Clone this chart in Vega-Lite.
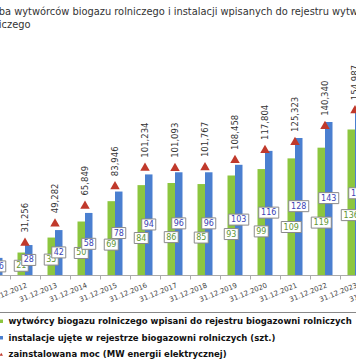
{
  "$schema": "https://vega.github.io/schema/vega-lite/v6.json",
  "width": 420,
  "height": 214,
  "autosize": {"type": "none"},
  "padding": {"left": -20, "top": 61, "right": 0, "bottom": 89},
  "background": "white",
  "config": {
    "view": {"stroke": null},
    "font": "DejaVu Sans",
    "locale": {"number": {"decimal": ",", "thousands": ".", "grouping": [3], "currency": ["", ""]}}
  },
  "title": {
    "text": ["Liczba wytwórców biogazu rolniczego i instalacji wpisanych do rejestru wytwórców biogazu", "rolniczego"],
    "anchor": "start",
    "frame": "group",
    "font": "DejaVu Sans",
    "fontSize": 9.85,
    "fontWeight": "normal",
    "color": "#333333",
    "baseline": "bottom",
    "lineHeight": 13,
    "offset": 21,
    "dx": 0
  },
  "datasets": {
    "bars": [
      {"d": "31.12.2011", "s": "w", "v": 13}, {"d": "31.12.2011", "s": "i", "v": 16},
      {"d": "31.12.2012", "s": "w", "v": 21}, {"d": "31.12.2012", "s": "i", "v": 28},
      {"d": "31.12.2013", "s": "w", "v": 35}, {"d": "31.12.2013", "s": "i", "v": 42},
      {"d": "31.12.2014", "s": "w", "v": 50}, {"d": "31.12.2014", "s": "i", "v": 58},
      {"d": "31.12.2015", "s": "w", "v": 69}, {"d": "31.12.2015", "s": "i", "v": 78},
      {"d": "31.12.2016", "s": "w", "v": 84}, {"d": "31.12.2016", "s": "i", "v": 94},
      {"d": "31.12.2017", "s": "w", "v": 86}, {"d": "31.12.2017", "s": "i", "v": 96},
      {"d": "31.12.2018", "s": "w", "v": 85}, {"d": "31.12.2018", "s": "i", "v": 96},
      {"d": "31.12.2019", "s": "w", "v": 93}, {"d": "31.12.2019", "s": "i", "v": 103},
      {"d": "31.12.2020", "s": "w", "v": 99}, {"d": "31.12.2020", "s": "i", "v": 116},
      {"d": "31.12.2021", "s": "w", "v": 109}, {"d": "31.12.2021", "s": "i", "v": 128},
      {"d": "31.12.2022", "s": "w", "v": 119}, {"d": "31.12.2022", "s": "i", "v": 143},
      {"d": "31.12.2023", "s": "w", "v": 136}, {"d": "31.12.2023", "s": "i", "v": 152}
    ],
    "moc": [
      {"d": "31.12.2011", "m": 20.0},
      {"d": "31.12.2012", "m": 31.256},
      {"d": "31.12.2013", "m": 49.282},
      {"d": "31.12.2014", "m": 65.849},
      {"d": "31.12.2015", "m": 83.946},
      {"d": "31.12.2016", "m": 101.234},
      {"d": "31.12.2017", "m": 101.093},
      {"d": "31.12.2018", "m": 101.767},
      {"d": "31.12.2019", "m": 108.458},
      {"d": "31.12.2020", "m": 117.804},
      {"d": "31.12.2021", "m": 125.323},
      {"d": "31.12.2022", "m": 140.340},
      {"d": "31.12.2023", "m": 154.987}
    ]
  },
  "encoding": {
    "x": {
      "field": "d",
      "type": "nominal",
      "scale": {
        "domain": ["31.12.2011", "31.12.2012", "31.12.2013", "31.12.2014", "31.12.2015", "31.12.2016", "31.12.2017", "31.12.2018", "31.12.2019", "31.12.2020", "31.12.2021", "31.12.2022", "31.12.2023", "31.12.2024"],
        "paddingInner": 0,
        "paddingOuter": 0
      },
      "axis": {
        "title": null,
        "tickBand": "extent",
        "domainColor": "#aaaaaa",
        "tickColor": "#aaaaaa",
        "tickSize": 4,
        "labelAngle": -22,
        "labelAlign": "right",
        "labelBaseline": "top",
        "labelPadding": 2,
        "labelFont": "DejaVu Sans",
        "labelFontSize": 7,
        "labelColor": "#444444",
        "labelOverlap": false,
        "labelBound": false,
        "grid": false
      }
    }
  },
  "layer": [
    {
      "data": {"name": "bars"},
      "mark": {"type": "bar"},
      "encoding": {
        "xOffset": {"field": "s", "scale": {"domain": ["w", "i"], "paddingInner": 0, "paddingOuter": 1}},
        "y": {"field": "v", "type": "quantitative", "scale": {"domain": [0, 200]}, "axis": null},
        "color": {
          "field": "s",
          "type": "nominal",
          "scale": {"domain": ["w", "i", "m"], "range": ["#8cc63f", "#4a7fd0", "#c0392b"]},
          "legend": {
            "orient": "none",
            "legendX": 12,
            "legendY": 251,
            "direction": "vertical",
            "title": null,
            "padding": 5,
            "strokeColor": "#888888",
            "fillColor": "white",
            "symbolType": "square",
            "symbolSize": 12,
            "symbolStrokeWidth": 0,
            "rowPadding": 7.5,
            "labelOffset": 3,
            "labelFont": "DejaVu Sans",
            "labelFontSize": 8.5,
            "labelFontWeight": "bold",
            "labelColor": "#111111",
            "labelLimit": 500,
            "labelExpr": "datum.value == 'w' ? 'wytwórcy biogazu rolniczego wpisani do rejestru biogazowni rolniczych' : datum.value == 'i' ? 'instalacje ujęte w rejestrze biogazowni rolniczych (szt.)' : 'zainstalowana moc (MW energii elektrycznej)'",
            "encode": {"symbols": {"update": {"shape": {"signal": "datum.value === 'm' ? 'triangle-up' : 'square'"}}}}
          }
        }
      }
    },
    {
      "data": {"name": "moc"},
      "mark": {"type": "point", "shape": "triangle-up", "filled": true, "size": 90, "opacity": 1},
      "encoding": {
        "y": {"field": "m", "type": "quantitative", "scale": {"domain": [0, 200]}, "axis": null},
        "color": {"datum": "m"}
      }
    },
    {
      "data": {"name": "moc"},
      "mark": {"type": "text", "angle": 270, "align": "left", "baseline": "middle", "yOffset": -9, "fontSize": 8.5, "color": "#333333"},
      "encoding": {
        "y": {"field": "m", "type": "quantitative", "scale": {"domain": [0, 200]}, "axis": null},
        "text": {"field": "m", "type": "quantitative", "format": ".3f"}
      }
    },
    {
      "data": {"name": "bars"},
      "transform": [{"filter": {"field": "s", "equal": "w"}}],
      "mark": {"type": "point", "filled": true, "color": "white", "stroke": "#8a8a8a", "strokeWidth": 1, "size": 400, "opacity": 1},
      "encoding": {
        "xOffset": {"field": "s", "scale": {"domain": ["w", "i"], "paddingInner": 0, "paddingOuter": 1}},
        "y": {"field": "v", "type": "quantitative", "scale": {"domain": [0, 486]}, "axis": null},
        "shape": {"condition": {"test": "datum.v >= 100", "value": "M-1,-0.55H1V0.55H-1Z"}, "value": "M-0.7,-0.55H0.7V0.55H-0.7Z"}
      }
    },
    {
      "data": {"name": "bars"},
      "transform": [{"filter": {"field": "s", "equal": "w"}}],
      "mark": {"type": "text", "fontSize": 8, "color": "#5f9634", "align": "center", "baseline": "middle", "dy": 0.5},
      "encoding": {
        "xOffset": {"field": "s", "scale": {"domain": ["w", "i"], "paddingInner": 0, "paddingOuter": 1}},
        "y": {"field": "v", "type": "quantitative", "scale": {"domain": [0, 486]}, "axis": null},
        "text": {"field": "v", "type": "quantitative"}
      }
    },
    {
      "data": {"name": "bars"},
      "transform": [{"filter": {"field": "s", "equal": "i"}}],
      "mark": {"type": "point", "filled": true, "color": "white", "stroke": "#8a8a8a", "strokeWidth": 1, "size": 400, "opacity": 1},
      "encoding": {
        "xOffset": {"field": "s", "scale": {"domain": ["w", "i"], "paddingInner": 0, "paddingOuter": 1}},
        "y": {"field": "v", "type": "quantitative", "scale": {"domain": [0, 398]}, "axis": null},
        "shape": {"condition": {"test": "datum.v >= 100", "value": "M-1,-0.55H1V0.55H-1Z"}, "value": "M-0.7,-0.55H0.7V0.55H-0.7Z"}
      }
    },
    {
      "data": {"name": "bars"},
      "transform": [{"filter": {"field": "s", "equal": "i"}}],
      "mark": {"type": "text", "fontSize": 8, "color": "#3a3fb5", "align": "center", "baseline": "middle", "dy": 0.5},
      "encoding": {
        "xOffset": {"field": "s", "scale": {"domain": ["w", "i"], "paddingInner": 0, "paddingOuter": 1}},
        "y": {"field": "v", "type": "quantitative", "scale": {"domain": [0, 398]}, "axis": null},
        "text": {"field": "v", "type": "quantitative"}
      }
    }
  ],
  "resolve": {"scale": {"y": "independent"}}
}
